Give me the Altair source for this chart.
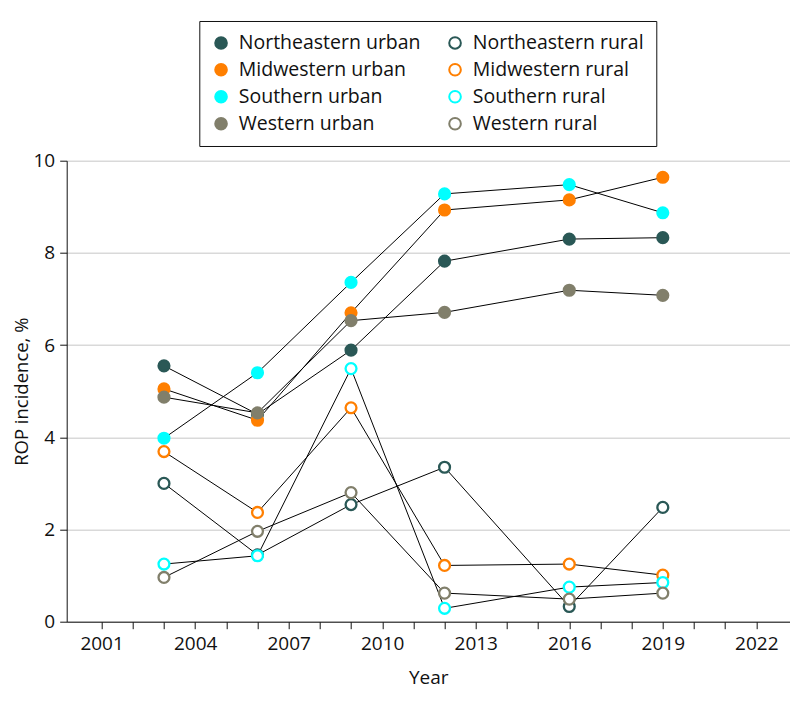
import altair as alt
import pandas as pd

years = [2003, 2006, 2009, 2012, 2016, 2019]

ne_urban = [5.55, 4.50, 5.89, 7.82, 8.30, 8.33]
mw_urban = [5.05, 4.37, 6.70, 8.93, 9.15, 9.64]
s_urban = [3.98, 5.40, 7.36, 9.28, 9.48, 8.87]
w_urban = [4.87, 4.53, 6.53, 6.71, 7.19, 7.08]

ne_rural = [3.00, 1.45, 2.54, 3.35, 0.33, 2.48]
mw_rural = [3.69, 2.37, 4.64, 1.22, 1.25, 1.01]
s_rural = [1.25, 1.43, 5.49, 0.29, 0.75, 0.85]
w_rural = [0.96, 1.96, 2.80, 0.62, 0.49, 0.62]

series_names = [
    "Northeastern urban", "Midwestern urban", "Southern urban", "Western urban",
    "Northeastern rural", "Midwestern rural", "Southern rural", "Western rural",
]
series_values = [ne_urban, mw_urban, s_urban, w_urban, ne_rural, mw_rural, s_rural, w_rural]

ne_col = "#2a5856"
mw_col = "#ff7f00"
s_col = "#00ffff"
w_col = "#817f6b"
stroke_colors = [ne_col, mw_col, s_col, w_col, ne_col, mw_col, s_col, w_col]
fill_colors = [ne_col, mw_col, s_col, w_col, "#ffffff", "#ffffff", "#ffffff", "#ffffff"]

rows = []
for name, vals in zip(series_names, series_values):
    for yr, v in zip(years, vals):
        rows.append({"Year": yr, "Value": v, "Series": name})
df = pd.DataFrame(rows)

FONT = "Open Sans"
tick_years = list(range(2001, 2023))

x_enc = alt.X(
    "Year:Q",
    scale=alt.Scale(domain=[1999.88, 2023.07], nice=False, zero=False),
    axis=alt.Axis(
        values=tick_years,
        format="d",
        labelExpr="(datum.value - 2001) % 3 == 0 ? datum.label : ''",
        grid=False,
        title="Year",
        tickSize=7,
        labelPadding=6,
        titlePadding=15,
    ),
)
y_enc = alt.Y(
    "Value:Q",
    scale=alt.Scale(domain=[0, 10], nice=False),
    axis=alt.Axis(
        values=[0, 2, 4, 6, 8, 10],
        title="ROP incidence, %",
        grid=True,
        tickSize=7,
        labelPadding=5,
        titlePadding=1,
        titleFontSize=18.5,
    ),
)

lines = alt.Chart(df).mark_line(color="black", strokeWidth=1).encode(
    x=x_enc, y=y_enc, detail="Series:N"
)

points = alt.Chart(df).mark_point(
    filled=False, size=118, strokeWidth=2.3, shape="circle", opacity=1
).encode(
    x=x_enc,
    y=y_enc,
    fill=alt.Fill(
        "Series:N",
        scale=alt.Scale(domain=series_names, range=fill_colors),
        legend=alt.Legend(title=None),
    ),
    stroke=alt.Stroke(
        "Series:N",
        scale=alt.Scale(domain=series_names, range=stroke_colors),
        legend=alt.Legend(title=None),
    ),
)

chart = (
    alt.layer(lines, points)
    .properties(
        width=723,
        height=461,
        autosize=alt.AutoSizeParams(type="none"),
        padding={"left": 58.7, "top": 152.7, "right": 0, "bottom": 82},
    )
    .configure(font=FONT)
    .configure_view(stroke=None)
    .configure_axis(
        labelFont=FONT,
        titleFont=FONT,
        labelFontSize=19,
        titleFontSize=19,
        titleFontWeight="normal",
        labelColor="#111111",
        titleColor="#111111",
        domainColor="#111111",
        tickColor="#111111",
        domainWidth=1,
        tickWidth=1,
        gridColor="#d9d9d9",
        gridWidth=1.5,
    )
    .configure_legend(
        orient="none",
        legendX=132.6,
        legendY=-139.7,
        columns=2,
        columnPadding=23,
        rowPadding=6,
        padding=12,
        strokeColor="#111111",
        labelFont=FONT,
        labelFontSize=19.5,
        labelLimit=0,
        labelColor="#111111",
        labelOffset=8,
        symbolType="circle",
        symbolSize=135,
        symbolStrokeWidth=2,
        symbolOpacity=1,
    )
)

chart.save("out.html", embed_options={"renderer": "svg", "actions": False})
